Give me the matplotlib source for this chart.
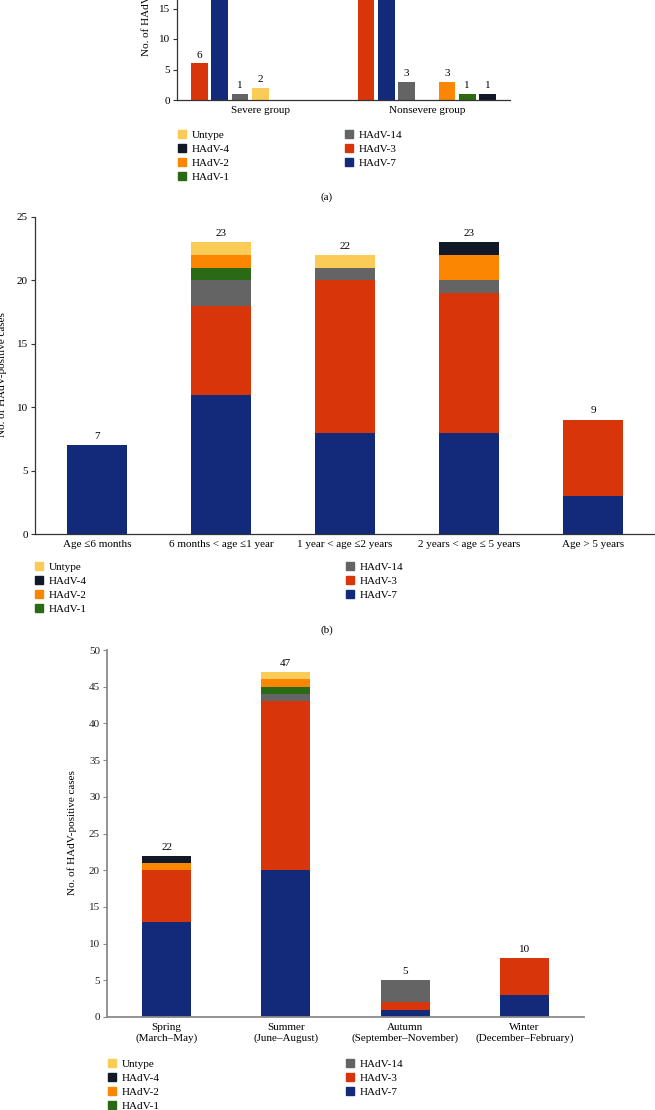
import matplotlib.pyplot as plt
from matplotlib.patches import Patch
import numpy as np

plt.rcParams['font.family'] = ['Liberation Serif', 'DejaVu Serif']
plt.rcParams['font.size'] = 8

W, H = 655, 1110

colors = {
    'HAdV-7': '#132a7a',
    'HAdV-3': '#d8360a',
    'HAdV-14': '#646464',
    'HAdV-1': '#2b6a14',
    'HAdV-2': '#fb8602',
    'HAdV-4': '#111827',
    'Untype': '#fbcb57',
}
legend_col1 = ['Untype', 'HAdV-4', 'HAdV-2', 'HAdV-1']
legend_col2 = ['HAdV-14', 'HAdV-3', 'HAdV-7']

# (a) severity, grouped bars (slot order as drawn)
sev_groups = ['Severe group', 'Nonsevere group']
sev_order = ['HAdV-3', 'HAdV-7', 'HAdV-14', 'Untype', 'HAdV-2', 'HAdV-1', 'HAdV-4']
sev_3 = [6, 30]
sev_7 = [19, 18]
sev_14 = [1, 3]
sev_untype = [2, 0]
sev_2 = [0, 3]
sev_1 = [0, 1]
sev_4 = [0, 1]

# (b) age groups, stacked
age_groups = ['Age ≤6 months', '6 months < age ≤1 year', '1 year < age ≤2 years',
              '2 years < age ≤ 5 years', 'Age > 5 years']
age_7 = [7, 11, 8, 8, 3]
age_3 = [0, 7, 12, 11, 6]
age_14 = [0, 2, 1, 1, 0]
age_1 = [0, 1, 0, 0, 0]
age_2 = [0, 1, 0, 2, 0]
age_4 = [0, 0, 0, 1, 0]
age_untype = [0, 1, 1, 0, 0]

# (c) seasons, stacked
seasons = ['Spring\n(March–May)', 'Summer\n(June–August)',
           'Autumn\n(September–November)', 'Winter\n(December–February)']
season_7 = [13, 20, 1, 3]
season_3 = [7, 23, 1, 5]
season_14 = [0, 1, 3, 0]
season_1 = [0, 1, 0, 0]
season_2 = [1, 1, 0, 0]
season_4 = [1, 0, 0, 0]
season_untype = [0, 1, 0, 0]
season_totals = [22, 47, 5, 10]


def px_axes(fig, left, right, y0, ytop):
    return fig.add_axes([left / W, 1 - y0 / H, (right - left) / W, (y0 - ytop) / H])


def style_axes(ax, spine_color='#333333', lw=0.9):
    for s in ['top', 'right']:
        ax.spines[s].set_visible(False)
    for s in ['left', 'bottom']:
        ax.spines[s].set_color(spine_color)
        ax.spines[s].set_linewidth(lw)
    ax.tick_params(axis='y', length=3, width=0.8, color=spine_color, pad=2, labelsize=8)
    ax.tick_params(axis='x', length=0, pad=4, labelsize=8)


def add_legend(fig, x1, x2, ytop):
    h1 = [Patch(color=colors[k]) for k in legend_col1]
    h2 = [Patch(color=colors[k]) for k in legend_col2]
    kw = dict(loc='upper left', frameon=False, borderpad=0, borderaxespad=0,
              handlelength=0.75, handleheight=0.75, handletextpad=0.5,
              labelspacing=0.37, fontsize=8)
    fig.legend(h1, legend_col1, bbox_to_anchor=(x1 / W, 1 - ytop / H), **kw)
    fig.legend(h2, legend_col2, bbox_to_anchor=(x2 / W, 1 - ytop / H), **kw)


def stacked(ax, cats, series, width, labels, offset=6.5):
    x = np.arange(len(cats))
    bottom = np.zeros(len(cats))
    for name, vals in series:
        ax.bar(x, vals, width, bottom=bottom, color=colors[name], linewidth=0)
        bottom += np.array(vals)
    for xi, top, lab in zip(x, bottom, labels):
        ax.annotate(str(lab), (xi, top), xytext=(0, offset), textcoords='offset points',
                    ha='center', va='center', fontsize=8)
    ax.set_xticks(x)
    ax.set_xticklabels(cats, linespacing=1.3)
    ax.set_xlim(-0.5, len(cats) - 0.5)


fig = plt.figure(figsize=(W / 100, H / 100), dpi=100)

# ---- (a)
ax_a = px_axes(fig, 177, 510, 100, 100 - 35 * 6.1)
sev_vals = {'HAdV-3': sev_3, 'HAdV-7': sev_7, 'HAdV-14': sev_14, 'Untype': sev_untype,
            'HAdV-2': sev_2, 'HAdV-1': sev_1, 'HAdV-4': sev_4}
xg = np.arange(len(sev_groups))
step = 0.1217
for i, name in enumerate(sev_order):
    vals = sev_vals[name]
    xs = xg + (i - 3) * step
    ax_a.bar(xs, vals, 0.1, color=colors[name], linewidth=0)
    for xv, v in zip(xs, vals):
        if v > 0:
            ax_a.annotate(str(v), (xv, v), xytext=(0, 6), textcoords='offset points',
                          ha='center', va='center', fontsize=8)
ax_a.set_xlim(-0.5, 1.5)
ax_a.set_ylim(0, 35)
ax_a.set_yticks(range(0, 36, 5))
ax_a.set_xticks(xg)
ax_a.set_xticklabels(sev_groups)
style_axes(ax_a)
ax_a.set_ylabel('No. of HAdV-positive cases', fontsize=8)
ax_a.yaxis.set_label_coords(151 / W, 1 - (100 - 35 * 6.1 / 2) / H, transform=fig.transFigure)
add_legend(fig, 178, 345, 130)
fig.text(327 / W, 1 - 197 / H, '(a)', ha='center', va='center', fontsize=8)

# ---- (b)
ax_b = px_axes(fig, 35, 655, 534, 217)
stacked(ax_b, age_groups,
        [('HAdV-7', age_7), ('HAdV-3', age_3), ('HAdV-14', age_14), ('HAdV-1', age_1),
         ('HAdV-2', age_2), ('HAdV-4', age_4), ('Untype', age_untype)],
        0.48, [sum(v) for v in zip(age_7, age_3, age_14, age_1, age_2, age_4, age_untype)])
ax_b.set_ylim(0, 25)
ax_b.set_yticks(range(0, 26, 5))
style_axes(ax_b)
ax_b.set_ylabel('No. of HAdV-positive cases', fontsize=8)
ax_b.yaxis.set_label_coords(7 / W, 1 - 375 / H, transform=fig.transFigure)
add_legend(fig, 35, 346, 562)
fig.text(327 / W, 1 - 630 / H, '(b)', ha='center', va='center', fontsize=8)

# ---- (c)
ax_c = px_axes(fig, 107, 584, 1017, 650)
stacked(ax_c, seasons,
        [('HAdV-7', season_7), ('HAdV-3', season_3), ('HAdV-14', season_14),
         ('HAdV-1', season_1), ('HAdV-2', season_2), ('HAdV-4', season_4),
         ('Untype', season_untype)],
        0.41, season_totals, offset=6)
ax_c.set_ylim(0, 50)
ax_c.set_yticks(range(0, 51, 5))
style_axes(ax_c, spine_color='#8a8a8a', lw=1.3)
ax_c.tick_params(axis='y', labelcolor='#222222')
ax_c.set_ylabel('No. of HAdV-positive cases', fontsize=8)
ax_c.yaxis.set_label_coords(77 / W, 1 - 833 / H, transform=fig.transFigure)
add_legend(fig, 108, 346, 1059)

fig.savefig('out.png', dpi=100)
plt.close(fig)
